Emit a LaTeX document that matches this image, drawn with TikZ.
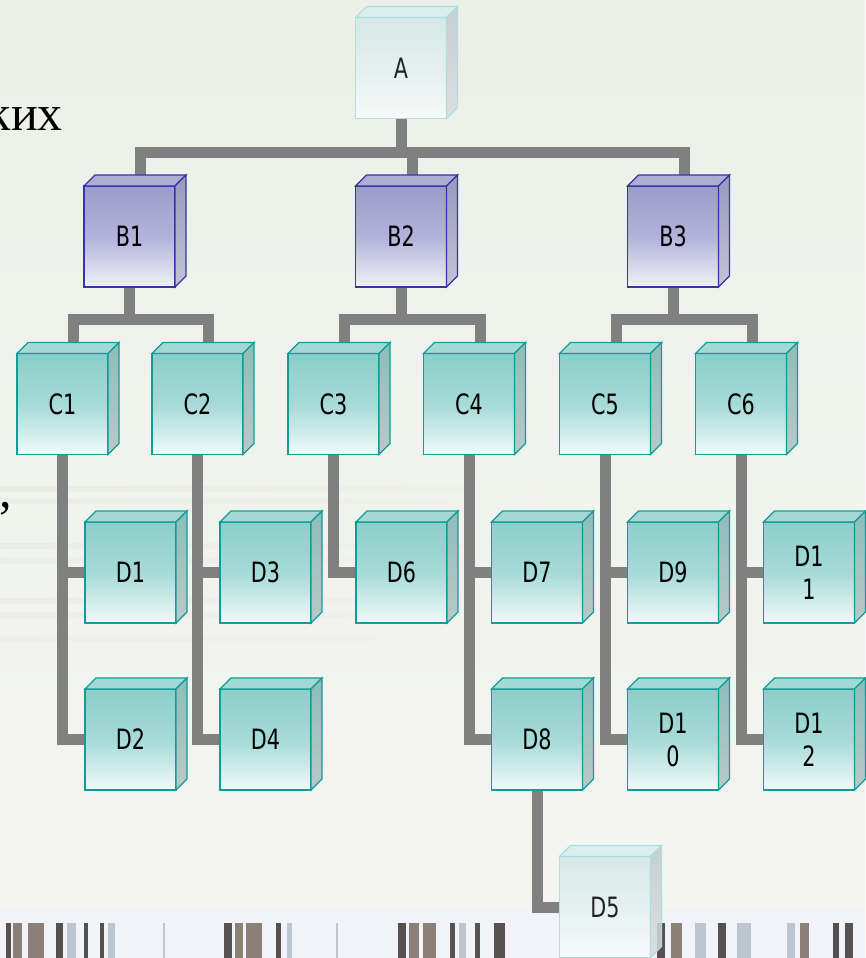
\documentclass[tikz,border=0pt]{standalone}
\usepackage{fontspec}
\newfontfamily\boxfont{DejaVu Sans}[FakeStretch=0.74]
\newfontfamily\slidefont{Liberation Serif}
\usetikzlibrary{positioning}

\pgfdeclarelayer{backdrop}
\pgfdeclarelayer{links}
\pgfsetlayers{backdrop,links,main}

\definecolor{linkgray}{HTML}{808080}
\definecolor{bgtop}{HTML}{ECF0E8}
\definecolor{bgbot}{HTML}{F5F5F2}
\definecolor{bandcol}{HTML}{F1F3F8}
\definecolor{tealedge}{HTML}{109C97}
\definecolor{tealtop}{HTML}{8CCECA}
\definecolor{tealmid}{HTML}{A6DAD7}
\definecolor{tealbot}{HTML}{F0FAFA}
\definecolor{tealcap}{HTML}{A4D8D5}
\definecolor{tealside}{HTML}{8DBDBA}
\definecolor{tealsidebot}{HTML}{BAC9C8}
\definecolor{violetedge}{HTML}{3535A8}
\definecolor{violettop}{HTML}{9C9CCA}
\definecolor{violetmid}{HTML}{B2B2DA}
\definecolor{violetbot}{HTML}{F0F0FA}
\definecolor{violetcap}{HTML}{ADADD6}
\definecolor{violetside}{HTML}{9898C0}
\definecolor{violetsidebot}{HTML}{C4C4D6}
\definecolor{paleedge}{HTML}{ACDEE0}
\definecolor{paletop}{HTML}{D2E8E6}
\definecolor{palemid}{HTML}{E2F0EF}
\definecolor{palebot}{HTML}{F9FCFC}
\definecolor{palecap}{HTML}{D8EEEE}
\definecolor{paleside}{HTML}{C0CACA}
\definecolor{palesidebot}{HTML}{D6DDDD}
\definecolor{bardark}{HTML}{3A3531}
\definecolor{barbrown}{HTML}{7A6C62}
\definecolor{barlight}{HTML}{B4BEC8}

\tikzset{
  cube/.style={rectangle, draw, line width=1.3pt, inner sep=0pt, outer sep=0pt,
    minimum width=91pt, minimum height=101pt, align=center,
    font=\boxfont\fontsize{28}{33}\selectfont},
  tealcube/.style={cube, draw=tealedge, top color=tealtop, bottom color=tealbot, middle color=tealmid},
  violetcube/.style={cube, draw=violetedge, top color=violettop, bottom color=violetbot, middle color=violetmid},
  palecube/.style={cube, draw=paleedge, top color=paletop, bottom color=palebot, middle color=palemid, fill opacity=.85},
  teal cap/.style={fill=tealcap, draw=tealedge, line width=1.3pt},
  teal side/.style={top color=tealside, bottom color=tealsidebot, draw=tealedge, line width=1.3pt},
  violet cap/.style={fill=violetcap, draw=violetedge, line width=1.3pt},
  violet side/.style={top color=violetside, bottom color=violetsidebot, draw=violetedge, line width=1.3pt},
  pale cap/.style={fill=palecap, draw=paleedge, line width=1.3pt, fill opacity=.85},
  pale side/.style={top color=paleside, bottom color=palesidebot, draw=paleedge, line width=1.3pt, fill opacity=.85},
  link/.style={draw=linkgray, line width=11pt, line join=miter},
  slidetext/.style={anchor=base east, inner sep=0pt, font=\slidefont\fontsize{50}{60}\selectfont},
}

\begin{document}
\begin{tikzpicture}[x=1pt, y=-1pt]
  \useasboundingbox (0,0) rectangle (865,958);

  % boxes
  \node[palecube] (A) at (401,68) {A};

  \node[violetcube] (B1) at (129.5,236.5) {B1};
  \node[violetcube] (B2) at (401,236.5) {B2};
  \node[violetcube] (B3) at (673,236.5) {B3};

  \node[tealcube] (C1) at (62.5,404) {C1};
  \node[tealcube] (C2) at (197.5,404) {C2};
  \node[tealcube] (C3) at (333.5,404) {C3};
  \node[tealcube] (C4) at (469,404) {C4};
  \node[tealcube] (C5) at (605,404) {C5};
  \node[tealcube] (C6) at (741,404) {C6};

  \node[tealcube] (D1) at (130.5,572.5) {D1};
  \node[tealcube] (D2) at (130.5,739.5) {D2};
  \node[tealcube] (D3) at (265.5,572.5) {D3};
  \node[tealcube] (D4) at (265.5,739.5) {D4};
  \node[tealcube] (D6) at (401.5,572.5) {D6};
  \node[tealcube] (D7) at (537,572.5) {D7};
  \node[tealcube] (D8) at (537,739.5) {D8};
  \node[tealcube] (D9) at (673,572.5) {D9};
  \node[tealcube] (D10) at (673,739.5) {D1\\0};
  \node[tealcube] (D11) at (809,572.5) {D1\\1};
  \node[tealcube] (D12) at (809,739.5) {D1\\2};
  \node[palecube] (D5) at (605,907) {D5};

  % top and right faces of the cubes
  \foreach \n/\k in {A/pale, B1/violet, B2/violet, B3/violet, C1/teal, C2/teal, C3/teal,
      C4/teal, C5/teal, C6/teal, D1/teal, D2/teal, D3/teal, D4/teal, D6/teal, D7/teal,
      D8/teal, D9/teal, D10/teal, D11/teal, D12/teal, D5/pale} {
    \path[\k\space cap] (\n.north west) -- ++(11,-11) -- ([shift={(11,-11)}]\n.north east) -- (\n.north east) -- cycle;
    \path[\k\space side] (\n.north east) -- ++(11,-11) -- ([shift={(11,-11)}]\n.south east) -- (\n.south east) -- cycle;
  }

  % leftovers of the slide text
  \node[slidetext] (txtkih) at (63,130) {ких};
  \node[slidetext] (txtcomma) at (12,507) {,};

  % connectors
  \begin{pgfonlayer}{links}
    \foreach \b in {B1,B2,B3}
      \draw[link] (A.south) -- ++(0,34) -| ([shift={(11,-11)}]\b.north);
    \foreach \b/\c in {B1/C1,B1/C2,B2/C3,B2/C4,B3/C5,B3/C6}
      \draw[link] (\b.south) -- ++(0,32) -| ([shift={(11,-11)}]\c.north);
    \foreach \c/\d in {C1/D1,C1/D2,C2/D3,C2/D4,C3/D6,C4/D7,C4/D8,C5/D9,C5/D10,C6/D11,C6/D12,D8/D5}
      \draw[link] (\c.south) |- (\d.west);
  \end{pgfonlayer}

  % slide background
  \begin{pgfonlayer}{backdrop}
    \shade[top color=bgtop, bottom color=bgbot] (0,0) rectangle (865,958);
    \foreach \yy/\o in {486/.12, 498/.09, 543/.1, 558/.08, 598/.1, 612/.09, 636/.05}
      \shade[left color=gray!60, right color=bgbot, opacity=\o] (0,\yy) rectangle (560,\yy+5);
    \fill[bandcol] (0,908) rectangle (865,958);
    \foreach \xa/\xb/\cl in {6/11/bardark, 13/22/barbrown, 28/44/barbrown, 56/63/bardark,
        67/76/barlight, 84/88/bardark, 100/104/bardark, 108/115/barlight, 163/165/barlight,
        224/232/bardark, 235/243/barbrown, 246/262/barbrown, 276/281/bardark, 287/292/barlight,
        336/338/barlight, 398/406/bardark, 409/419/barbrown, 423/436/barbrown, 450/455/bardark,
        459/466/barlight, 475/480/bardark, 494/505/bardark, 657/665/bardark, 671/682/barbrown,
        695/706/barlight, 718/726/bardark, 737/751/barlight, 787/795/barlight, 800/809/barbrown,
        833/839/bardark, 845/853/bardark}
      \fill[\cl, opacity=.85] (\xa,923) rectangle (\xb,958);
  \end{pgfonlayer}
\end{tikzpicture}
\end{document}
